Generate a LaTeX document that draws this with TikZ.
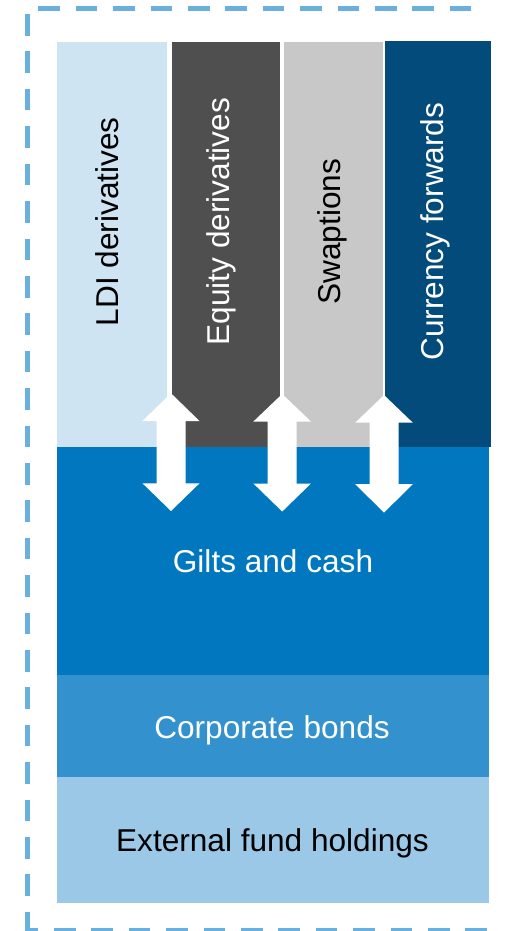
\documentclass[tikz,border=0pt]{standalone}
\usepackage{fontspec}
\setmainfont{Liberation Sans}
\definecolor{ldicol}{HTML}{CFE4F3}
\definecolor{equitycol}{HTML}{4F4F4F}
\definecolor{swapcol}{HTML}{C8C8C8}
\definecolor{currcol}{HTML}{024B7A}
\definecolor{giltscol}{HTML}{0077BE}
\definecolor{corpcol}{HTML}{3392CD}
\definecolor{extcol}{HTML}{9AC8E6}
\definecolor{bordercol}{HTML}{6AB0DE}
\begin{document}
\begin{tikzpicture}[x=1pt,y=1pt,
  lbl/.style={inner sep=0pt,anchor=base,font=\fontsize{31.6}{36}\selectfont},
  vlbl/.style={lbl,rotate=90},
  dborder/.style={draw=bordercol,line width=5pt,dash pattern=on 21.6pt off 15.8pt},
  xarrow/.style={fill=white,draw=none}]
\useasboundingbox (0,0) rectangle (505,-931);
% dashed frame
\draw[dborder,dash phase=31.8pt] (27.5,-8.5) -- (27.5,-930.5);
\draw[dborder,dash phase=11pt] (27.5,-930.5) -- (487,-930.5);
\draw[dborder,dash phase=26.6pt] (27.5,-8.5) -- (480,-8.5);
% top columns
\fill[ldicol] (57,-42) rectangle (167,-447);
\fill[equitycol] (172,-42) rectangle (280,-447);
\fill[swapcol] (284,-42) rectangle (383,-447);
\fill[currcol] (385,-41) rectangle (491,-447);
% bottom layers
\fill[giltscol] (57,-447) rectangle (489,-675);
\fill[corpcol] (57,-675) rectangle (489,-777);
\fill[extcol] (57,-777) rectangle (489,-903);
% labels
\node[vlbl,text=black] (ldi) at (118.8,-221.7) {LDI derivatives};
\node[vlbl,text=white] (eq) at (229.8,-221.7) {Equity derivatives};
\node[vlbl,text=black] (sw) at (340,-231.7) {Swaptions};
\node[vlbl,text=white] (cf) at (443,-231.7) {Currency forwards};
\node[lbl,text=white] (gc) at (273,-572) {Gilts and cash};
\node[lbl,text=white] (cb) at (272,-738.3) {Corporate bonds};
\node[lbl,text=black] (ef) at (272.5,-851.7) {External fund holdings};
% double arrows
\fill[xarrow] (171,-393.3) -- (199.5,-421) -- (185.5,-421) -- (185.5,-483.3) -- (199.5,-483.3) -- (171,-511) -- (142.5,-483.3) -- (156.5,-483.3) -- (156.5,-421) -- (142.5,-421) -- cycle;
\fill[xarrow] (282.2,-394) -- (311,-421.5) -- (296.7,-421.5) -- (296.7,-483.5) -- (311,-483.5) -- (282.2,-511.5) -- (253.4,-483.5) -- (267.7,-483.5) -- (267.7,-421.5) -- (253.4,-421.5) -- cycle;
\fill[xarrow] (384,-395) -- (412.8,-422.7) -- (398.5,-422.7) -- (398.5,-484) -- (412.8,-484) -- (384,-512.7) -- (355.2,-484) -- (369.5,-484) -- (369.5,-422.7) -- (355.2,-422.7) -- cycle;
\end{tikzpicture}
\end{document}
